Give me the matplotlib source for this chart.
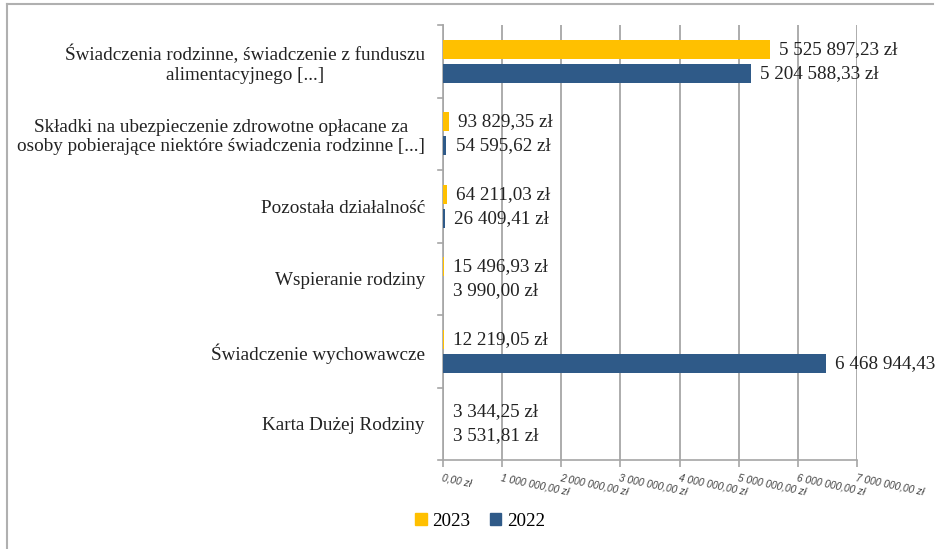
import matplotlib.pyplot as plt
import numpy as np
from matplotlib.lines import Line2D
from matplotlib.patches import Patch

categories = [
    "Świadczenia rodzinne, świadczenie z funduszu\nalimentacyjnego [...]",
    "Składki na ubezpieczenie zdrowotne opłacane za\nosoby pobierające niektóre świadczenia rodzinne [...]",
    "Pozostała działalność",
    "Wspieranie rodziny",
    "Świadczenie wychowawcze",
    "Karta Dużej Rodziny",
]
values_2023 = [5525897.23, 93829.35, 64211.03, 15496.93, 12219.05, 3344.25]
values_2022 = [5204588.33, 54595.62, 26409.41, 3990.00, 6468944.43, 3531.81]
x_ticks = [0, 1e6, 2e6, 3e6, 4e6, 5e6, 6e6, 7e6]

YELLOW = "#FFC000"
BLUE = "#2F5A88"
GRID = "#A6A6A6"
SERIF = "Liberation Serif"
FS = 13.8


def pln(v):
    # 5525897.23 -> "5 525 897,23 zł"
    s = "{:,.2f}".format(v).replace(",", " ").replace(".", ",")
    return s + " zł"


fig = plt.figure(figsize=(9.36, 5.49), dpi=100)
ax = fig.add_axes([443 / 936, 1 - 460 / 549, (857 - 443) / 936, (460 - 25) / 549])

y = np.arange(len(categories))
h = 0.26
off = 0.165
ax.barh(y - off, values_2023, height=h, color=YELLOW, zorder=3)
ax.barh(y + off, values_2022, height=h, color=BLUE, zorder=3)

for i in range(len(categories)):
    ax.text(values_2023[i] + 1.6e5, y[i] - off, pln(values_2023[i]), va="center", ha="left",
            fontsize=FS, family=SERIF, color="#222222", zorder=4, clip_on=False)
    ax.text(values_2022[i] + 1.6e5, y[i] + off, pln(values_2022[i]), va="center", ha="left",
            fontsize=FS, family=SERIF, color="#222222", zorder=4, clip_on=False)

ax.set_ylim(len(categories) - 0.5, -0.5)
ax.set_xlim(0, 7e6)

# category labels
ax.set_yticks(y)
ax.set_yticklabels(categories, family=SERIF, fontsize=FS, multialignment="center", color="#222222")
ax.tick_params(axis="y", length=0, pad=13)
for b in np.arange(-0.5, len(categories) + 0.5, 1):
    ax.add_line(Line2D([-0.012, 0], [b, b], transform=ax.get_yaxis_transform(),
                       color=GRID, lw=1.2, clip_on=False))

# x axis
ax.set_xticks(x_ticks)
ax.set_xticklabels([pln(v) for v in x_ticks], rotation=-12, rotation_mode="anchor",
                   ha="left", va="top", fontsize=7.3, style="italic", color="#404040",
                   family="Liberation Sans")
ax.tick_params(axis="x", length=5, color=GRID, width=1.2, pad=4)
ax.grid(axis="x", color=GRID, lw=1.3, zorder=0)

for side in ["top", "right"]:
    ax.spines[side].set_visible(False)
ax.spines["left"].set_color(GRID)
ax.spines["bottom"].set_color(GRID)
ax.spines["left"].set_linewidth(1.2)
ax.spines["bottom"].set_linewidth(1.2)

handles = [Patch(color=YELLOW, label="2023"), Patch(color=BLUE, label="2022")]
fig.legend(handles=handles, loc="center", bbox_to_anchor=(480 / 936, 1 - 521 / 549), ncol=2,
           frameon=False, prop={"family": SERIF, "size": FS}, handlelength=0.6, handleheight=0.6,
           handletextpad=0.3, columnspacing=1.0)

# outer frame (left and top edges)
fig.add_artist(Line2D([7 / 936, 7 / 936], [0, 1 - 4 / 549], transform=fig.transFigure, color="#B0B0B0", lw=1.5))
fig.add_artist(Line2D([7 / 936, 933 / 936], [1 - 4 / 549, 1 - 4 / 549], transform=fig.transFigure, color="#B0B0B0", lw=1.5))

fig.savefig("out.png", dpi=100)
